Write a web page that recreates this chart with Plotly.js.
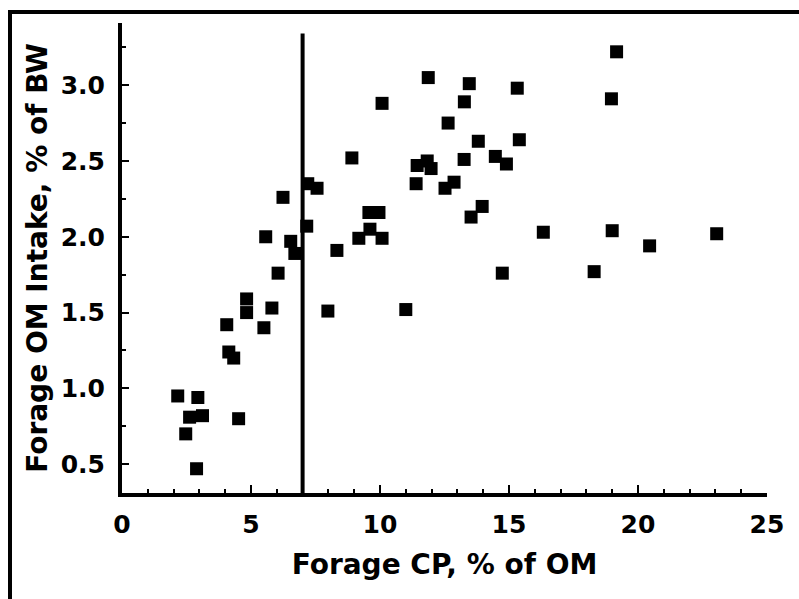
<!DOCTYPE html>
<html>
<head>
<meta charset="utf-8">
<script src="https://cdn.plot.ly/plotly-3.0.1.min.js"></script>
<style>
  html, body { margin: 0; padding: 0; background: #fff; }
  #wrap { position: relative; width: 799px; height: 599px; overflow: hidden; }
  #chart { position: absolute; left: 0; top: 0; width: 799px; height: 599px; }
  #frame { position: absolute; left: 8px; top: 10px; right: 0; bottom: 0;
           border-top: 4px solid #000; border-left: 4px solid #000; pointer-events: none; }
</style>
</head>
<body>
<div id="wrap">
  <div id="chart"></div>
  <div id="frame"></div>
</div>
<script>
// Forage crude protein (% of OM)
const forageCP = [
  2.16, 2.94, 2.62, 3.12, 2.47, 2.89, 4.52, 4.06, 4.14, 4.33,
  4.83, 4.83, 5.81, 5.50, 6.05, 5.57, 6.54, 6.70, 6.24, 7.16,
  7.20, 7.56, 7.98, 8.33, 8.91, 9.18, 9.61, 10.08, 9.57, 9.96,
  10.08, 11.00, 11.40, 11.44, 11.83, 11.98, 11.87, 12.52, 12.87, 12.64,
  13.27, 13.46, 13.26, 13.81, 13.96, 13.53, 14.47, 14.90, 15.32, 15.40,
  14.74, 16.33, 18.30, 18.97, 19.17, 19.00, 20.45, 23.05
];
// Forage OM intake (% of BW)
const omIntake = [
  0.95, 0.94, 0.81, 0.82, 0.70, 0.47, 0.80, 1.42, 1.24, 1.20,
  1.59, 1.50, 1.53, 1.40, 1.76, 2.00, 1.97, 1.89, 2.26, 2.07,
  2.35, 2.32, 1.51, 1.91, 2.52, 1.99, 2.05, 1.99, 2.16, 2.16,
  2.88, 1.52, 2.35, 2.47, 2.50, 2.45, 3.05, 2.32, 2.36, 2.75,
  2.89, 3.01, 2.51, 2.63, 2.20, 2.13, 2.53, 2.48, 2.98, 2.64,
  1.76, 2.03, 1.77, 2.91, 3.22, 2.04, 1.94, 2.02
];
// Reference line (CP threshold) and axis settings
const cpThreshold = 7;
const thresholdLineTop = 3.34;
const xRange = [0, 25];
const yRange = [0.31, 3.41];
const xTickVals = [0, 5, 10, 15, 20, 25];
const yTickVals = [0.5, 1.0, 1.5, 2.0, 2.5, 3.0];
const yTickText = ['0.5', '1.0', '1.5', '2.0', '2.5', '3.0'];
const xTitle = 'Forage CP, % of OM';
const yTitle = 'Forage OM Intake, % of BW';

const fontFam = '"DejaVu Sans", "Liberation Sans", Arial, sans-serif';

const trace = {
  type: 'scatter',
  mode: 'markers',
  x: forageCP,
  y: omIntake,
  marker: { symbol: 'square', size: 13, color: '#000', line: { width: 0 } },
  hoverinfo: 'x+y',
  showlegend: false
};

const layout = {
  width: 799,
  height: 599,
  margin: { l: 122, r: 32, t: 23, b: 106, pad: 0 },
  paper_bgcolor: '#fff',
  plot_bgcolor: '#fff',
  font: { family: fontFam, color: '#000', size: 25, weight: 'bold' },
  xaxis: {
    range: xRange,
    tickvals: xTickVals,
    ticks: 'inside',
    ticklen: 8,
    tickwidth: 2,
    tickcolor: '#000',
    minor: { dtick: 1, ticks: 'inside', ticklen: 4, tickwidth: 2, tickcolor: '#000' },
    showline: true,
    linewidth: 4,
    linecolor: '#000',
    showgrid: false,
    zeroline: false,
    tickfont: { family: fontFam, size: 25, color: '#000', weight: 'bold' },
    ticklabelstandoff: 6,
    title: { text: xTitle, font: { family: fontFam, size: 28, color: '#000', weight: 'bold' }, standoff: 17 }
  },
  yaxis: {
    range: yRange,
    tickvals: yTickVals,
    ticktext: yTickText,
    ticks: 'inside',
    ticklen: 7,
    tickwidth: 2,
    tickcolor: '#000',
    minor: { dtick: 0.25, tick0: 0, ticks: 'inside', ticklen: 4, tickwidth: 2, tickcolor: '#000' },
    showline: true,
    linewidth: 4,
    linecolor: '#000',
    showgrid: false,
    zeroline: false,
    tickfont: { family: fontFam, size: 25, color: '#000', weight: 'bold' },
    ticklabelstandoff: 8,
    title: { text: yTitle, font: { family: fontFam, size: 28, color: '#000', weight: 'bold' }, standoff: 6 }
  },
  shapes: [
    {
      type: 'line', xref: 'x', yref: 'y',
      x0: cpThreshold, x1: cpThreshold, y0: yRange[0], y1: thresholdLineTop,
      line: { color: '#000', width: 4 }
    }
  ]
};

Plotly.newPlot('chart', [trace], layout, { displayModeBar: false, staticPlot: true });
</script>
</body>
</html>
